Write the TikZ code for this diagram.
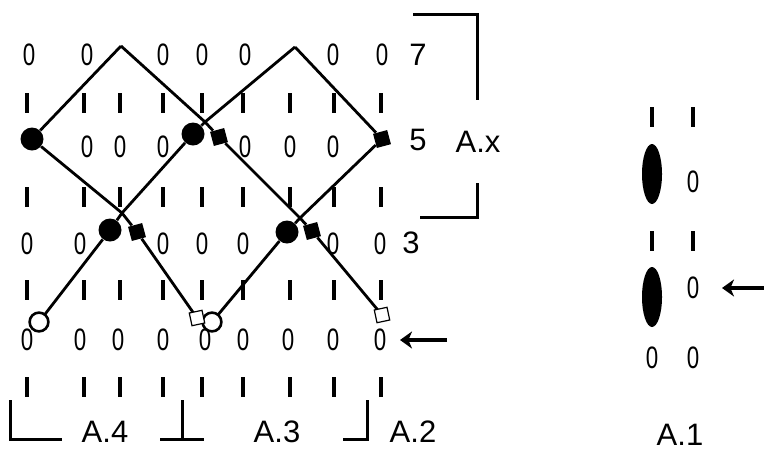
\documentclass[tikz,border=0pt]{standalone}
\usepackage{fontspec}
\setmainfont{Liberation Sans}
\usepackage{graphicx}
\usetikzlibrary{arrows.meta,shapes.geometric}
\newcommand{\zch}{\scalebox{0.72}[1]{0}}
\tikzset{
  zero/.style={inner sep=0pt,font=\fontsize{15.5}{15.5}\selectfont},
  lbl/.style={inner sep=0pt,font=\fontsize{15.5}{15.5}\selectfont},
  bar/.style={line width=1.9pt},
  cable/.style={line width=1.4pt},
  brk/.style={line width=1.5pt},
  dot/.style={circle,fill=black,minimum size=11.5pt,inner sep=0pt},
  sq/.style={rectangle,fill=black,minimum size=7.3pt,inner sep=0pt,rotate=15},
  ring/.style={circle,draw,line width=1.3pt,fill=white,minimum size=9.4pt,inner sep=0pt},
  box/.style={rectangle,draw,line width=0.6pt,fill=white,minimum size=6.5pt,inner sep=0pt,rotate=12},
  blob/.style={ellipse,fill=black,minimum width=10pt,minimum height=30pt,inner sep=0pt},
  larr/.style={line width=1.6pt,-{Stealth[length=6pt,width=8.5pt,inset=1.8pt]}}
}
\begin{document}
\begin{tikzpicture}[x=0.5pt,y=-0.5pt]
  \useasboundingbox (0,0) rectangle (764,451);

  % bars
  \foreach \y in {103,197,290,387}
    \foreach \x in {27,84,120,163,202,243,290,334,381}
      \draw[bar] (\x,\y-10) -- (\x,\y+10);

  % zeros
  \foreach \x in {29,87,163,202,245,333,382}
    \node[zero] (ra\x) at (\x,55) {\zch};
  \foreach \x in {87,120,163,245,290,333}
    \node[zero] (rb\x) at (\x,147) {\zch};
  \foreach \x in {27,80,163,202,243,333,380}
    \node[zero] (rc\x) at (\x,244) {\zch};
  \foreach \x in {27,80,118,163,205,243,288,333,380}
    \node[zero] (rd\x) at (\x,340) {\zch};

  % stitches
  \node[dot] (c0) at (32,139) {};
  \node[dot] (c1) at (193,134) {};
  \node[dot] (c2) at (110,230) {};
  \node[dot] (c3) at (287,232) {};
  \node[sq] (s1) at (219,137) {};
  \node[sq] (s2) at (137,232) {};
  \node[sq] (s3) at (312,231) {};
  \node[sq] (s4) at (382,139) {};
  \coordinate (x1) at (122,213);
  \coordinate (x2) at (205,122);
  \coordinate (x3) at (300,218);
  \coordinate (pk1) at (121,46);
  \coordinate (pk2) at (295,47);

  \draw[cable] (c0) -- (pk1);
  \draw[cable] (pk1) -- (x2) -- (s1) -- (x3) -- (s3) -- (382,315);
  \draw[cable] (39,322) -- (c2) -- (x1) -- (c1) -- (x2) -- (pk2);
  \draw[cable] (c0) -- (x1) -- (s2) -- (197,318);
  \draw[cable] (212,322) -- (c3) -- (x3) -- (s4);
  \draw[cable] (pk2) -- (s4);

  \node[ring] (oc1) at (39,322) {};
  \node[ring] (oc2) at (212,322) {};
  \node[box] (os1) at (197,318) {};
  \node[box] (os2) at (382,315) {};

  % row numbers and arrow
  \node[lbl] (n7) at (418,55) {7};
  \node[lbl] (n5) at (418,140) {5};
  \node[lbl] (n3) at (411,243) {3};
  \coordinate (ar1) at (447,340);
  \coordinate (ar1e) at (400,340);
  \draw[larr] (ar1) -- (ar1e);

  % brackets
  \draw[brk] (10,400) -- (10,439) -- (62,439);
  \draw[brk] (182,400) -- (182,439);
  \draw[brk] (160,439) -- (204,439);
  \draw[brk] (343,439) -- (367,439) -- (367,400);
  \draw[brk] (413,14) -- (477,14) -- (477,100);
  \draw[brk] (477,183) -- (477,217) -- (420,217);
  \node[lbl] (a4) at (105,432) {A.4};
  \node[lbl] (a3) at (277,432) {A.3};
  \node[lbl] (a2) at (413,432) {A.2};
  \node[lbl] (ax) at (478,142) {A.x};

  % A.1
  \foreach \y in {117,241}
    \foreach \x in {652,693}
      \draw[bar] (\x,\y-10) -- (\x,\y+10);
  \node[blob] (e1) at (652,174) {};
  \node[blob] (e2) at (652,297) {};
  \node[zero] (q1) at (693,182) {\zch};
  \node[zero] (q2) at (693,288) {\zch};
  \node[zero] (q3) at (652,358) {\zch};
  \node[zero] (q4) at (693,358) {\zch};
  \coordinate (ar2) at (764,288);
  \coordinate (ar2e) at (722,288);
  \draw[larr] (ar2) -- (ar2e);
  \node[lbl] (a1) at (680,435) {A.1};
\end{tikzpicture}
\end{document}
